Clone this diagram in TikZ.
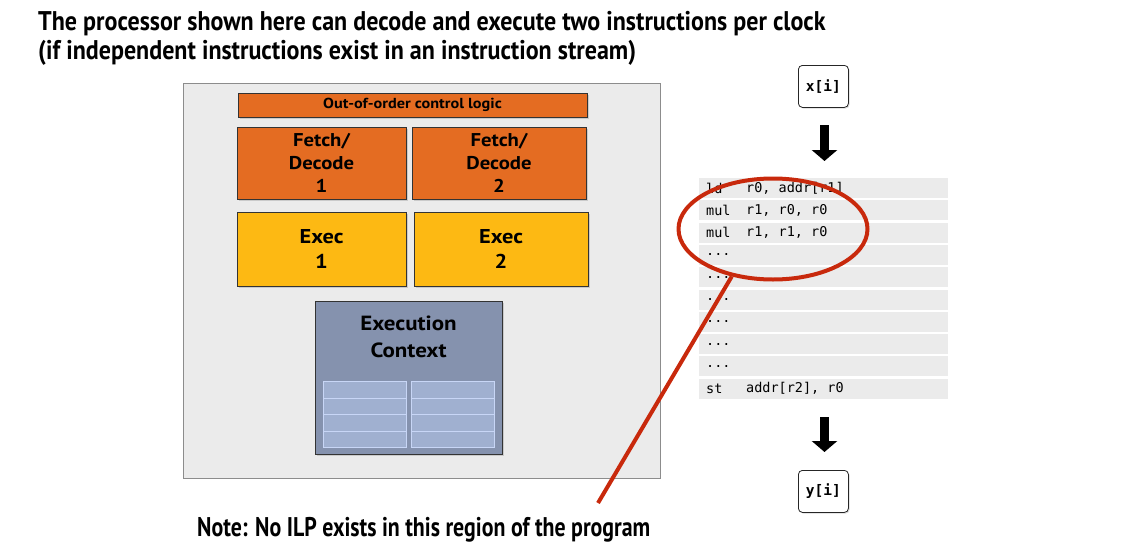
\documentclass[tikz,border=0pt]{standalone}
\usepackage{fontspec}
\setmainfont{PT Sans}
\newfontfamily\condfont{PT Sans}[FakeStretch=0.89]
\newfontfamily\notefont{PT Sans}[FakeStretch=0.81]
\newfontfamily\boxfont{PT Sans}[FakeStretch=1.12]
\newfontfamily\codefont{DejaVu Sans Mono}
\usetikzlibrary{shapes.geometric,arrows.meta,shadows}
\definecolor{oorange}{HTML}{E46C22}
\definecolor{eyellow}{HTML}{FDB913}
\definecolor{ctxblue}{HTML}{8592AE}
\definecolor{gridfill}{HTML}{A0B0D0}
\definecolor{gridline}{HTML}{C8D6F6}
\definecolor{panelgrey}{HTML}{EBEBEB}
\definecolor{panelline}{HTML}{8C8C8C}
\definecolor{redmark}{HTML}{C8290C}
\tikzset{
  unitbox/.style={draw=black!80, line width=0.9pt, anchor=north west, inner sep=0pt, outer sep=0pt,
    align=center, drop shadow={shadow xshift=1.5pt,shadow yshift=-1.5pt,opacity=0.3}},
  coderow/.style={fill=panelgrey, anchor=north west, inner sep=0pt, outer sep=0pt,
    minimum width=249pt, minimum height=20pt},
  codetxt/.style={anchor=west, inner sep=0pt, font=\codefont\fontsize{13.5}{14}\selectfont},
  valbox/.style={draw=black!85, line width=0.8pt, rounded corners=4pt, fill=white, anchor=north west,
    minimum width=50pt, minimum height=42pt, inner sep=0pt, font=\codefont\bfseries\fontsize{14.5}{16}\selectfont,
    drop shadow={shadow xshift=1.2pt,shadow yshift=-1.2pt,opacity=0.3}},
  bigarrow/.style={line width=9pt, -{Triangle[width=25pt,length=11pt]}, black},
  titletxt/.style={anchor=base west, inner sep=0pt, font=\condfont\bfseries\fontsize{27}{28}\selectfont},
  notetxt/.style={anchor=base west, inner sep=0pt, font=\notefont\bfseries\fontsize{27}{28}\selectfont}
}
\begin{document}
\begin{tikzpicture}[x=1pt,y=-1pt]
\useasboundingbox (0,0) rectangle (1142,554);
% titles
\node[titletxt] (t1) at (38,30) {The processor shown here can decode and execute two instructions per clock};
\node[titletxt] (t2) at (38,59) {(if independent instructions exist in an instruction stream)};
% processor panel
\node[draw=panelline, fill=panelgrey, line width=0.9pt, anchor=north west, minimum width=477pt, minimum height=395pt, inner sep=0pt] (panel) at (183,83) {};
\node[unitbox, fill=oorange, minimum width=349pt, minimum height=24pt, font=\boxfont\bfseries\fontsize{14.5}{15}\selectfont] (ooo) at (238,93) {Out-of-order control logic};
\node[unitbox, fill=oorange, minimum width=169pt, minimum height=72pt, font=\boxfont\bfseries\fontsize{18.5}{23}\selectfont] (fd1) at (237,127) {Fetch/\\Decode\\1};
\node[unitbox, fill=oorange, minimum width=174pt, minimum height=72pt, font=\boxfont\bfseries\fontsize{18.5}{23}\selectfont] (fd2) at (412,127) {Fetch/\\Decode\\2};
\node[unitbox, fill=eyellow, minimum width=169pt, minimum height=74pt, font=\boxfont\bfseries\fontsize{20}{25}\selectfont] (ex1) at (237,212) {Exec\\1};
\node[unitbox, fill=eyellow, minimum width=174pt, minimum height=74pt, font=\boxfont\bfseries\fontsize{20}{25}\selectfont] (ex2) at (414,212) {Exec\\2};
\node[unitbox, fill=ctxblue, minimum width=187pt, minimum height=153pt] (ctx) at (315,301) {};
\node[anchor=center, align=center, inner sep=0pt, font=\boxfont\bfseries\fontsize{20.5}{27}\selectfont] (ctxlbl) at (408.5,337) {Execution\\Context};
% register grid
\foreach \gx in {323,411}{
  \foreach \r in {0,1,2,3}{
    \node[draw=gridline, fill=gridfill, line width=0.9pt, anchor=north west, inner sep=0pt,
      minimum width=83pt, minimum height=16.5pt] (g\gx\r) at (\gx,381+16.5*\r) {};
  }
}
% input / output
\node[valbox] (xi) at (798,65) {x[i]};
\node[valbox] (yi) at (798,470) {y[i]};
% code rows
\foreach \m/\o [count=\k from 0] in {{ld}/{r0, addr[r1]},{mul}/{r1, r0, r0},{mul}/{r1, r1, r0},{...}/{},{...}/{},{...}/{},{...}/{},{...}/{},{...}/{},{st}/{addr[r2], r0}}{
  \node[coderow] (row\k) at (699,178+22.3*\k) {};
  \node[codetxt] (mn\k) at (706,188+22.3*\k) {\m};
  \node[codetxt] (op\k) at (746,188+22.3*\k) {\o};
}
% arrows
\coordinate (a1s) at (824.5,125);
\coordinate (a1e) at (824.5,161);
\coordinate (a2s) at (824.5,417);
\coordinate (a2e) at (824.5,452);
\draw[bigarrow] (a1s) -- (a1e);
\draw[bigarrow] (a2s) -- (a2e);
% red highlight
\node[draw=redmark, line width=4pt, ellipse, minimum width=189pt, minimum height=101pt, inner sep=0pt] (ell) at (773,229) {};
\coordinate (lineend) at (598,503);
\draw[redmark, line width=4pt] (ell.229) -- (lineend);
% note
\node[notetxt] (note) at (197,536) {Note: No ILP exists in this region of the program};
\end{tikzpicture}
\end{document}
